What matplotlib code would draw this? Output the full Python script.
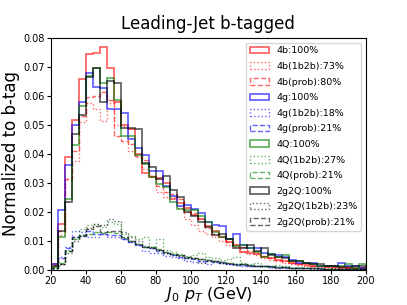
import numpy as np
import matplotlib
matplotlib.use('Agg')
import matplotlib.pyplot as plt

# bin edges 20..200 GeV, 4 GeV bins
edges = np.arange(20, 201, 4)
centers = edges[:-1] + 2

# 4b
b4_all = [0.002, 0.016, 0.039, 0.0516, 0.0658, 0.0744, 0.0749, 0.0767, 0.0695, 0.0578,
          0.0499, 0.0486, 0.040, 0.0335, 0.032, 0.0318, 0.030, 0.0245, 0.023, 0.0215,
          0.019, 0.0175, 0.015, 0.0135, 0.0115, 0.0095, 0.0085, 0.0062, 0.0058, 0.0055,
          0.0045, 0.004, 0.0035, 0.003, 0.0025, 0.0022, 0.002, 0.0015, 0.0012, 0.0012,
          0.001, 0.001, 0.0008, 0.0008, 0.0006]
b4_1b2b = [0.0015, 0.012, 0.0315, 0.0375, 0.051, 0.0575, 0.0555, 0.0515, 0.0575, 0.050,
           0.0495, 0.041, 0.039, 0.0347, 0.0325, 0.0267, 0.025, 0.025, 0.0215, 0.0175,
           0.0155, 0.0135, 0.0125, 0.0115, 0.010, 0.0085, 0.0078, 0.0063, 0.0055, 0.005,
           0.004, 0.0035, 0.003, 0.0025, 0.002, 0.0018, 0.0015, 0.0012, 0.001, 0.0009,
           0.0008, 0.0007, 0.0006, 0.0005, 0.0005]
b4_prob = [0.0018, 0.0135, 0.0315, 0.041, 0.053, 0.0595, 0.060, 0.0613, 0.0585, 0.0463,
           0.0444, 0.0433, 0.0393, 0.038, 0.0324, 0.029, 0.027, 0.0262, 0.0245, 0.020,
           0.0195, 0.0175, 0.0145, 0.0125, 0.0115, 0.0097, 0.0085, 0.0078, 0.0065, 0.0058,
           0.0048, 0.004, 0.0035, 0.003, 0.0025, 0.002, 0.0018, 0.0015, 0.0012, 0.001,
           0.001, 0.0008, 0.0007, 0.0006, 0.0005]

# 4g
g4_all = [0.002, 0.0205, 0.036, 0.050, 0.058, 0.068, 0.063, 0.0628, 0.0556, 0.0556,
          0.054, 0.045, 0.042, 0.0397, 0.034, 0.034, 0.029, 0.0255, 0.022, 0.0225,
          0.021, 0.0195, 0.0165, 0.0155, 0.015, 0.0105, 0.0125, 0.0085, 0.0075, 0.0075,
          0.0058, 0.0055, 0.005, 0.0045, 0.0035, 0.0025, 0.0025, 0.0025, 0.0015, 0.0015,
          0.0015, 0.0025, 0.0015, 0.0012, 0.0008]
g4_1b2b = [0.0005, 0.0045, 0.008, 0.0135, 0.013, 0.0115, 0.0115, 0.0125, 0.0115, 0.0115,
           0.0105, 0.0095, 0.0085, 0.0065, 0.006, 0.0058, 0.0048, 0.0045, 0.004, 0.0032,
           0.0028, 0.003, 0.0022, 0.0028, 0.0025, 0.002, 0.0022, 0.0015, 0.0015, 0.0012,
           0.0012, 0.001, 0.0008, 0.0009, 0.0006, 0.0005, 0.0005, 0.0004, 0.0004, 0.0003,
           0.0003, 0.0004, 0.0002, 0.0002, 0.0002]
g4_prob = [0.0005, 0.004, 0.0075, 0.0115, 0.012, 0.0135, 0.0125, 0.0125, 0.0122, 0.0122,
           0.0105, 0.0095, 0.0085, 0.0078, 0.0075, 0.0065, 0.0058, 0.005, 0.0045, 0.0042,
           0.0038, 0.0032, 0.003, 0.0028, 0.0025, 0.0022, 0.0018, 0.0018, 0.0015, 0.0013,
           0.0012, 0.001, 0.001, 0.0008, 0.0007, 0.0006, 0.0005, 0.0005, 0.0004, 0.0004,
           0.0003, 0.0003, 0.0003, 0.0002, 0.0002]

# 4Q
q4_all = [0.001, 0.0115, 0.0245, 0.043, 0.0565, 0.067, 0.0695, 0.0645, 0.066, 0.0584,
          0.046, 0.046, 0.0395, 0.0364, 0.032, 0.0295, 0.0285, 0.0235, 0.021, 0.0205,
          0.0205, 0.0185, 0.0165, 0.013, 0.0115, 0.0105, 0.0082, 0.0085, 0.0074, 0.0062,
          0.0045, 0.0055, 0.0043, 0.005, 0.003, 0.003, 0.0025, 0.002, 0.0015, 0.0015,
          0.0015, 0.0013, 0.002, 0.0008, 0.002]
q4_1b2b = [0.0005, 0.002, 0.007, 0.0105, 0.014, 0.0155, 0.016, 0.0148, 0.0165, 0.0158,
           0.0125, 0.0118, 0.0105, 0.0115, 0.008, 0.0108, 0.0068, 0.0062, 0.0055, 0.0048,
           0.005, 0.0058, 0.0045, 0.0042, 0.0035, 0.0038, 0.0045, 0.0025, 0.002, 0.0025,
           0.0015, 0.0012, 0.0018, 0.0012, 0.0008, 0.001, 0.0006, 0.0008, 0.0005, 0.0004,
           0.0006, 0.0003, 0.0004, 0.0003, 0.0002]
q4_prob = [0.0005, 0.0025, 0.0065, 0.0105, 0.012, 0.0125, 0.013, 0.0128, 0.0132, 0.0128,
           0.011, 0.0098, 0.0088, 0.008, 0.0078, 0.0072, 0.006, 0.0055, 0.005, 0.0045,
           0.0042, 0.0038, 0.0035, 0.003, 0.0028, 0.0025, 0.0022, 0.002, 0.0018, 0.0015,
           0.0014, 0.0012, 0.001, 0.001, 0.0008, 0.0007, 0.0006, 0.0006, 0.0005, 0.0004,
           0.0004, 0.0003, 0.0003, 0.0003, 0.0002]

# 2g2Q
gq_all = [0.0012, 0.0135, 0.0235, 0.047, 0.0535, 0.0665, 0.0695, 0.058, 0.065, 0.0645,
          0.049, 0.049, 0.0485, 0.037, 0.0355, 0.0315, 0.0325, 0.0275, 0.025, 0.020,
          0.0185, 0.0165, 0.0148, 0.012, 0.0125, 0.0105, 0.0075, 0.0075, 0.0085, 0.0065,
          0.0075, 0.005, 0.0045, 0.004, 0.003, 0.003, 0.0025, 0.002, 0.002, 0.0015,
          0.0015, 0.001, 0.001, 0.0015, 0.0015]
gq_1b2b = [0.0005, 0.002, 0.006, 0.0098, 0.0118, 0.0145, 0.0158, 0.0155, 0.0175, 0.017,
           0.0132, 0.0112, 0.0098, 0.0082, 0.008, 0.0068, 0.0058, 0.0052, 0.0048, 0.004,
           0.0042, 0.0025, 0.0032, 0.003, 0.0025, 0.002, 0.0018, 0.0022, 0.0015, 0.0012,
           0.0015, 0.001, 0.0008, 0.0009, 0.0007, 0.0006, 0.0005, 0.0005, 0.0004, 0.0004,
           0.0003, 0.0003, 0.0002, 0.0003, 0.0002]
gq_prob = [0.0005, 0.0022, 0.0065, 0.0112, 0.0118, 0.014, 0.015, 0.013, 0.0135, 0.0135,
           0.0112, 0.0098, 0.009, 0.008, 0.0075, 0.0068, 0.0062, 0.0055, 0.005, 0.0045,
           0.004, 0.0038, 0.0035, 0.003, 0.0027, 0.0024, 0.0021, 0.0019, 0.0017, 0.0015,
           0.0013, 0.0012, 0.001, 0.0009, 0.0008, 0.0007, 0.0006, 0.0005, 0.0005, 0.0004,
           0.0004, 0.0003, 0.0003, 0.0002, 0.0002]

series = [
    (b4_all, 'r', '-', '4b:100%'),
    (b4_1b2b, 'r', ':', '4b(1b2b):73%'),
    (b4_prob, 'r', '--', '4b(prob):80%'),
    (g4_all, 'b', '-', '4g:100%'),
    (g4_1b2b, 'b', ':', '4g(1b2b):18%'),
    (g4_prob, 'b', '--', '4g(prob):21%'),
    (q4_all, 'g', '-', '4Q:100%'),
    (q4_1b2b, 'g', ':', '4Q(1b2b):27%'),
    (q4_prob, 'g', '--', '4Q(prob):21%'),
    (gq_all, 'k', '-', '2g2Q:100%'),
    (gq_1b2b, 'k', ':', '2g2Q(1b2b):23%'),
    (gq_prob, 'k', '--', '2g2Q(prob):21%'),
]

fig = plt.figure(figsize=(4.07, 3.05), dpi=100)
ax = fig.add_axes([0.125, 0.115, 0.774, 0.761])

for vals, c, ls, lab in series:
    lw = 1.3 if ls == '-' else 1.0
    ax.hist(centers, bins=edges, weights=vals, histtype='step', color=c,
            linestyle=ls, linewidth=lw, alpha=0.6, label=lab)

ax.set_xlim(20, 200)
ax.set_ylim(0, 0.08)
ax.set_title('Leading-Jet b-tagged', fontsize=12)
ax.set_xlabel('$J_0$ $p_T$ (GeV)', fontsize=11.5, labelpad=-1)
ax.set_ylabel('Normalized to b-tag', fontsize=12, labelpad=2)
ax.tick_params(labelsize=7, length=3, pad=1.5)
ax.legend(fontsize=6.8, loc='upper right', labelspacing=0.7)

fig.savefig('out.png', dpi=100)
plt.close(fig)
